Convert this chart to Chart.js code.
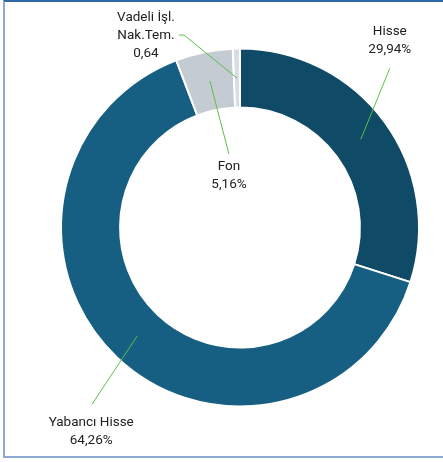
<!DOCTYPE html>
<html>
<head>
<meta charset="utf-8">
<script src="https://cdn.jsdelivr.net/npm/chart.js@4/dist/chart.umd.min.js"></script>
<style>
    html, body { margin: 0; padding: 0; background: #fff; }
    #wrap { position: relative; width: 443px; height: 462px; overflow: hidden; }
    #frame {
        position: absolute; left: 3px; top: 0; width: 460px; height: 454px;
        border-top: 2px solid #2f6aa6;
        border-left: 2px solid #8eaad2;
        border-bottom: 2px solid #8eaad2;
        pointer-events: none;
    }
    canvas { position: absolute; left: 0; top: 0; }
</style>
</head>
<body>
<div id="wrap">
    <canvas id="myChart" width="443" height="462"></canvas>
    <div id="frame"></div>
</div>
<script>

var categories = ['Hisse', 'Yabancı Hisse', 'Fon', 'Vadeli İşl. Nak.Tem.'];

var labelLines = [['Hisse'], ['Yabancı Hisse'], ['Fon'], ['Vadeli İşl.', 'Nak.Tem.']];

var shares = [29.94, 64.26, 5.16, 0.64];

var suffixes = ['%', '%', '%', ''];

var colors = ['#0f4a66', '#175f82', '#c4cbd2', '#d8dde3'];

// leader line end relative to slice centroid, text offset relative to line end
var labelLayout = [
    { dx: 29, dy: -71, tail: 0, tx: 0, ty: -37 },
    { dx: -45, dy: 68, tail: 0, tx: -1, ty: 19 },
    { dx: 19, dy: 73, tail: 0, tx: 0, ty: 13 },
    { dx: -53, dy: -43, tail: -5, tx: -38, ty: -17 }
];

var leaderLabels = {
    id: 'leaderLabels',
    afterDatasetsDraw: function (chart) {
        var ctx = chart.ctx;
        var arcs = chart.getDatasetMeta(0).data;

        ctx.save();

        for (var i = 0; i != arcs.length; i++) {

            var c = arcs[i].getCenterPoint();
            var lay = labelLayout[i];
            var ex = c.x + lay.dx;
            var ey = c.y + lay.dy;

            ctx.strokeStyle = '#5cbf4a';
            ctx.lineWidth = 1;
            ctx.beginPath();
            ctx.moveTo(c.x, c.y);
            ctx.lineTo(ex, ey);
            if (lay.tail != 0)
                ctx.lineTo(ex + lay.tail, ey);
            ctx.stroke();

            var lines = labelLines[i].slice();
            lines.push(shares[i].toFixed(2).replace('.', ',') + suffixes[i]);

            ctx.fillStyle = '#222222';
            ctx.font = '13.5px Roboto';
            ctx.textAlign = 'center';
            ctx.textBaseline = 'middle';

            for (var j = 0; j != lines.length; j++) {
                ctx.fillText(lines[j], ex + lay.tx, ey + lay.ty + j * 18);
            }
        }

        ctx.restore();
    }
};

var data = {
    labels: categories,
    datasets: [{
        data: shares,
        backgroundColor: colors,
        borderColor: '#ffffff',
        borderWidth: 2
    }]
};

var config = {
    type: 'doughnut',
    data: data,
    options: {
        responsive: false,
        animation: false,
        cutout: '67%',
        layout: {
            padding: { left: 60, right: 23, top: 47, bottom: 54 }
        },
        plugins: {
            legend: { display: false },
            tooltip: { enabled: false }
        }
    },
    plugins: [leaderLabels]
};

var myChart = new Chart(document.getElementById('myChart'), config);

</script>
</body>
</html>
